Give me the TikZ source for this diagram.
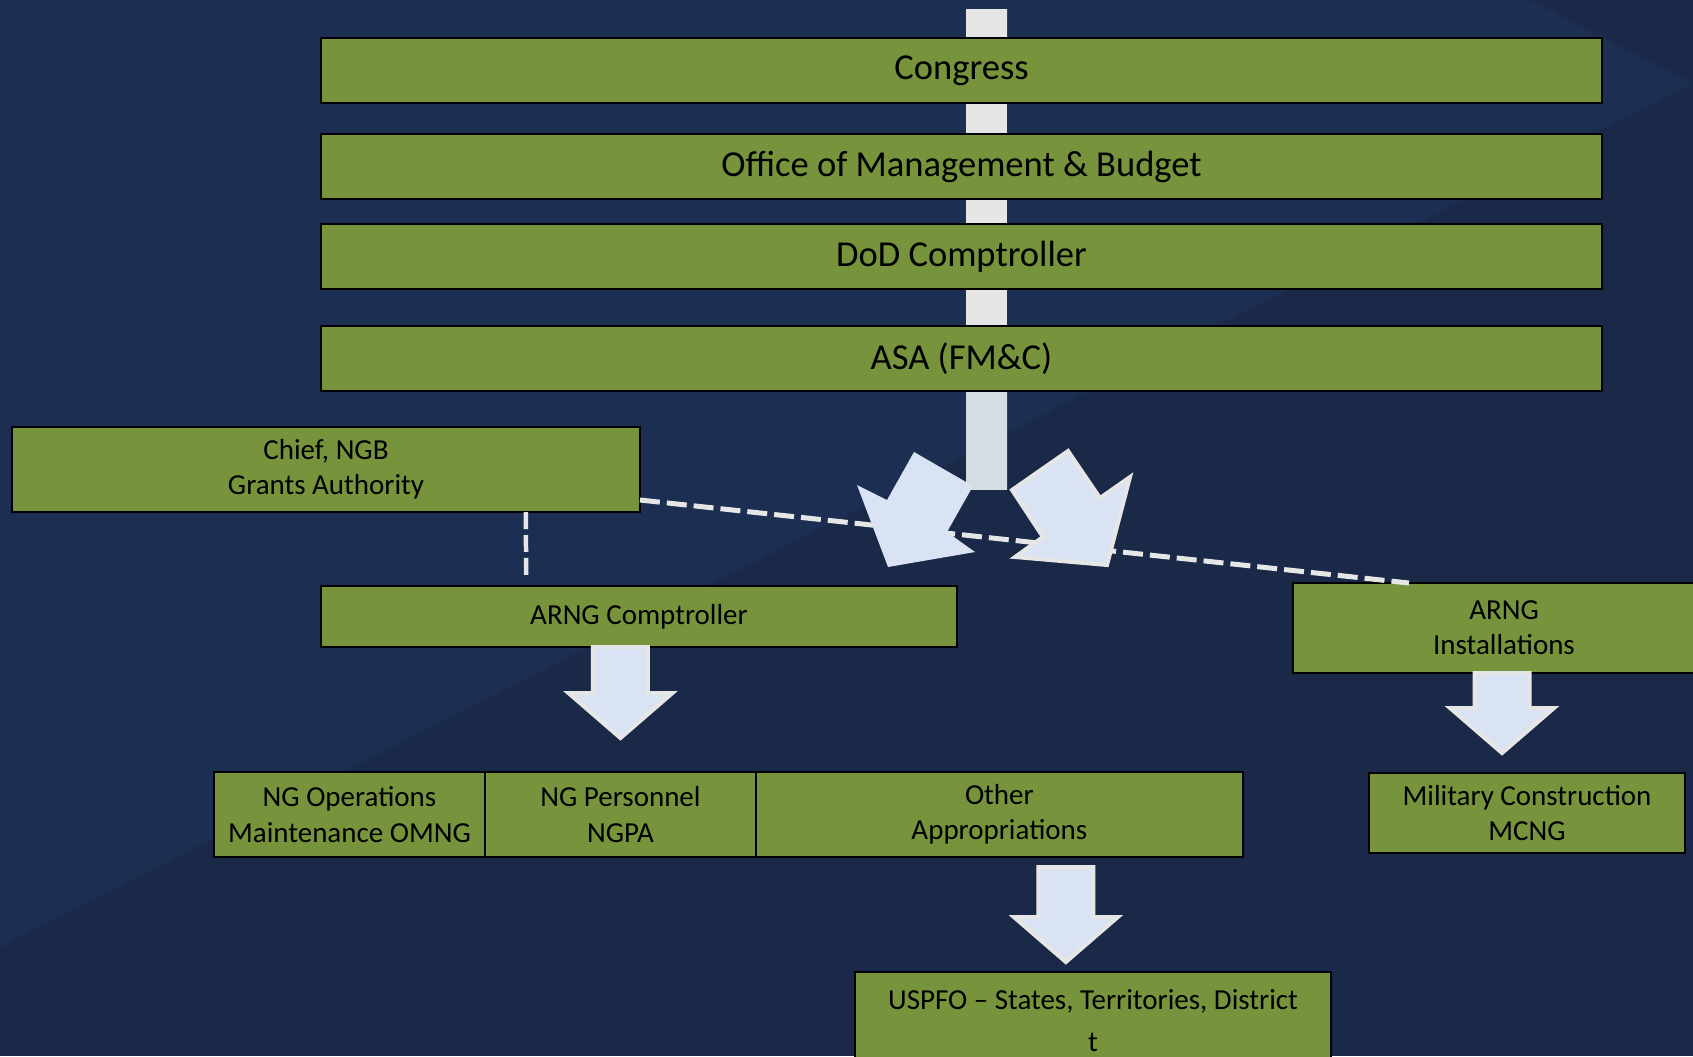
\documentclass[tikz,border=0pt]{standalone}
\usepackage{fontspec}
\setmainfont{Carlito}
\usetikzlibrary{positioning}

\definecolor{slide}{HTML}{1A2947}
\definecolor{slidelight}{HTML}{1C2F52}
\definecolor{olive}{HTML}{77933C}
\definecolor{barfill}{HTML}{E6E6E6}
\definecolor{stemfill}{HTML}{D6DCE4}
\definecolor{arrowfill}{HTML}{DAE3F3}

\tikzset{
  level/.style={draw=black, line width=1.4pt, fill=olive, inner sep=0pt, outer sep=0pt,
    minimum width=25.62cm, minimum height=1.3cm, font=\fontsize{20.8}{25}\selectfont},
  unit/.style={draw=black, line width=1.4pt, fill=olive, inner sep=0pt, outer sep=0pt,
    align=center, font=\fontsize{16.5}{20}\selectfont},
  bar/.style={draw=barfill, line width=0.82cm, shorten <=0.7pt, shorten >=0.7pt},
  link/.style={draw=barfill, line width=0.1cm, dash pattern=on 0.4cm off 0.14cm},
  flowarrow/.style={draw=barfill, line width=0.08cm, fill=arrowfill, line join=miter}
}

% block arrow pointing down: #1 = top of shaft, #2 = tip
\newcommand{\blockdown}[2]{%
  \draw[flowarrow] ([xshift=-0.55cm]#1) -- ([xshift=0.55cm]#1)
    -- ([xshift=0.55cm,yshift=0.9cm]#2) -- ([xshift=1.04cm,yshift=0.9cm]#2)
    -- (#2) -- ([xshift=-1.04cm,yshift=0.9cm]#2)
    -- ([xshift=-0.55cm,yshift=0.9cm]#2) -- cycle;}

\begin{document}
\begin{tikzpicture}[x=0.02cm, y=-0.02cm]
   \useasboundingbox (0,0) rectangle (1693,1056);
   \clip (0,0) rectangle (1693,1056);
   % background
   \fill[slide] (0,0) rectangle (1693,1056);
   \fill[slidelight] (0,0) -- (0,947) -- (1693,83) -- (1693,0) -- cycle;
   \fill[slide] (1530,0) -- (1693,0) -- (1693,83) -- cycle;

   % chain of offices
   \node[level] (congress) at (961.5,70.5) {Congress};
   \node[level, below=0.62cm of congress] (omb) {Office of Management \& Budget};
   \node[level, below=0.5cm of omb] (dod) {DoD Comptroller};
   \node[level, below=0.74cm of dod] (asa) {ASA (FM\&C)};

   \coordinate (feed) at (986.5,8);
   \coordinate (split) at (986.5,491);
   \draw[bar] (feed) -- ([xshift=0.5cm]congress.north);
   \draw[bar] ([xshift=0.5cm]congress.south) -- ([xshift=0.5cm]omb.north);
   \draw[bar] ([xshift=0.5cm]omb.south) -- ([xshift=0.5cm]dod.north);
   \draw[bar] ([xshift=0.5cm]dod.south) -- ([xshift=0.5cm]asa.north);
   \draw[bar, draw=stemfill] ([xshift=0.5cm]asa.south) -- (split);

   % second tier
   \node[unit, minimum width=12.56cm, minimum height=1.7cm] (chief) at (326,469.5) {Chief, NGB\\Grants Authority};
   \node[unit, minimum width=12.72cm, minimum height=1.22cm] (comp) at (639,616.5) {ARNG Comptroller};
   \node[unit, minimum width=8.44cm, minimum height=1.8cm] (inst) at (1504,628) {ARNG\\Installations};

   \draw[link] ([yshift=0.24cm]chief.south east) -- ([xshift=2.32cm]inst.north west);
   \draw[link, line width=0.09cm, dash pattern=on 0.34cm off 0.12cm]
      ([xshift=4cm]chief.south) -- ([xshift=-2.26cm,yshift=0.12cm]comp.north);

   % fork below ASA
   \fill[arrowfill] (914,452) -- (973,486) -- (947,532) -- (975,552) -- (888,567)
      -- (857,485) -- (887,500) -- cycle;
   \draw[flowarrow] (1012,490) -- (1068,451) -- (1100,498) -- (1130,477) -- (1107,565)
      -- (1015,557) -- (1043,537) -- cycle;

   % appropriations
   \node[unit, minimum width=5.42cm, minimum height=1.7cm] (omng) at (349.5,814.5) {NG Operations\\Maintenance OMNG};
   \node[unit, minimum width=5.42cm, minimum height=1.7cm, right=0pt of omng] (ngpa) {NG Personnel\\NGPA};
   \node[unit, minimum width=9.74cm, minimum height=1.7cm, right=0pt of ngpa] (other) {Other\\Appropriations};
   \node[unit, minimum width=6.32cm, minimum height=1.6cm] (mcng) at (1527,813) {Military Construction\\MCNG};
   \node[unit, minimum width=9.52cm, minimum height=1.94cm] (uspfo) at (1093,1020.5) {USPFO – States, Territories, District\\[4pt]t};

   \coordinate (c1) at (ngpa.north |- comp.south);
   \coordinate (c2) at ([yshift=0.68cm]ngpa.north);
   \blockdown{c1}{c2}
   \coordinate (c3) at ([xshift=-0.04cm]inst.south);
   \coordinate (c4a) at (c3 |- mcng.north);
   \coordinate (c4) at ([yshift=0.4cm]c4a);
   \blockdown{c3}{c4}
   \coordinate (c5) at ([xshift=1.33cm,yshift=-0.2cm]other.south);
   \coordinate (c6a) at (c5 |- uspfo.north);
   \coordinate (c6) at ([yshift=0.2cm]c6a);
   \blockdown{c5}{c6}
\end{tikzpicture}
\end{document}
